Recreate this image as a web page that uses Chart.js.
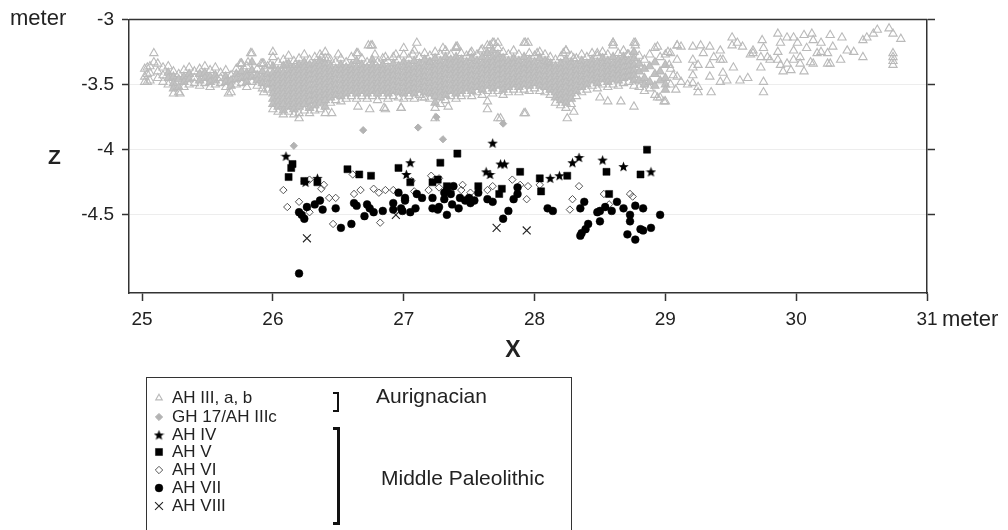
<!DOCTYPE html>
<html><head><meta charset="utf-8">
<script src="https://cdn.jsdelivr.net/npm/chart.js@4.4.1/dist/chart.umd.min.js"></script>
<style>
html,body{margin:0;padding:0;background:#fff;overflow:hidden;}
#wrap{position:relative;width:1008px;height:530px;font-family:"Liberation Sans",Arial,sans-serif;color:#222;}
#c{position:absolute;left:0;top:0;}
#legend{position:absolute;left:146px;top:377px;width:426px;height:200px;border:1.5px solid #333;box-sizing:border-box;}
.item{position:absolute;left:4px;height:18px;display:flex;align-items:center;font-size:17px;white-space:nowrap;color:#222;}
.item canvas{width:16px;height:16px;margin-right:5px;}
.grp{position:absolute;font-size:21px;color:#222;white-space:nowrap;line-height:24px;}
.br{position:absolute;border-style:solid;border-color:#111;border-left:none;}
</style>
</head><body>
<div id="wrap">
<canvas id="c" width="1008" height="530"></canvas>
<div id="legend"></div>
</div>
<script>
// ---------------- DATA ----------------
const xTicks = [25, 26, 27, 28, 29, 30, 31];
const yTicks = [-3, -3.5, -4, -4.5];
const yTickLabels = ['-3', '-3.5', '-4', '-4.5'];
const seriesNames = ['AH III, a, b', 'GH 17/AH IIIc', 'AH IV', 'AH V', 'AH VI', 'AH VII', 'AH VIII'];
const groupNames = ['Aurignacian', 'Middle Paleolithic'];

// AH III, a, b : columns [x, y1, y2, ...] read from the dense cloud
const ah3Columns = [
  [25.02,-3.38,-3.44,-3.48],[25.06,-3.36,-3.41,-3.47],[25.09,-3.26,-3.33],[25.12,-3.34,-3.40,-3.45],
  [25.16,-3.37,-3.43,-3.48],[25.20,-3.36,-3.41,-3.45,-3.50],[25.24,-3.40,-3.44,-3.49,-3.53,-3.57],
  [25.28,-3.42,-3.46,-3.52,-3.56],[25.32,-3.39,-3.44,-3.48,-3.52],[25.36,-3.37,-3.42,-3.46,-3.50],
  [25.40,-3.40,-3.45,-3.49],[25.44,-3.38,-3.42,-3.47,-3.51],[25.48,-3.36,-3.41,-3.45,-3.49],
  [25.52,-3.39,-3.44,-3.48,-3.52],[25.56,-3.37,-3.43,-3.47,-3.50],[25.60,-3.41,-3.45,-3.49],
  [25.64,-3.39,-3.44,-3.48,-3.52],[25.68,-3.43,-3.47,-3.51,-3.56],[25.72,-3.38,-3.42,-3.46,-3.50],
  [25.76,-3.34,-3.40,-3.45,-3.49],[25.80,-3.36,-3.41,-3.44,-3.48,-3.52],[25.84,-3.26,-3.33,-3.39,-3.44,-3.48],
  [25.88,-3.38,-3.43,-3.47,-3.51],[25.92,-3.34,-3.40,-3.45,-3.49,-3.53],[25.96,-3.36,-3.42,-3.46,-3.50,-3.54],
  [26.00,-3.29,-3.36,-3.41,-3.45,-3.49,-3.53,-3.57,-3.61,-3.65,-3.69],
  [26.04,-3.33,-3.39,-3.43,-3.47,-3.51,-3.55,-3.59,-3.63,-3.67,-3.71],
  [26.08,-3.31,-3.36,-3.41,-3.45,-3.49,-3.53,-3.57,-3.61,-3.65,-3.70,-3.73],
  [26.12,-3.28,-3.34,-3.39,-3.43,-3.47,-3.51,-3.55,-3.59,-3.63,-3.67,-3.71],
  [26.16,-3.32,-3.37,-3.41,-3.45,-3.49,-3.53,-3.57,-3.61,-3.65,-3.69,-3.73],
  [26.20,-3.30,-3.35,-3.39,-3.43,-3.47,-3.51,-3.55,-3.59,-3.63,-3.67,-3.72],
  [26.24,-3.27,-3.33,-3.37,-3.41,-3.45,-3.49,-3.53,-3.57,-3.61,-3.65,-3.70],
  [26.28,-3.31,-3.35,-3.39,-3.43,-3.47,-3.51,-3.55,-3.59,-3.63,-3.68,-3.72],
  [26.32,-3.29,-3.34,-3.38,-3.42,-3.46,-3.50,-3.54,-3.58,-3.62,-3.66,-3.70],
  [26.36,-3.27,-3.32,-3.36,-3.40,-3.44,-3.48,-3.52,-3.56,-3.60,-3.64,-3.69],
  [26.40,-3.30,-3.34,-3.38,-3.42,-3.46,-3.50,-3.54,-3.58,-3.62,-3.67,-3.72],
  [26.44,-3.31,-3.36,-3.40,-3.44,-3.48,-3.52,-3.56,-3.60,-3.64],
  [26.48,-3.33,-3.38,-3.42,-3.46,-3.50,-3.54,-3.58,-3.62],
  [26.52,-3.30,-3.35,-3.39,-3.43,-3.47,-3.51,-3.55,-3.59,-3.63],
  [26.56,-3.33,-3.37,-3.41,-3.45,-3.49,-3.53,-3.57,-3.61],
  [26.60,-3.29,-3.35,-3.39,-3.43,-3.47,-3.51,-3.55,-3.59],
  [26.64,-3.26,-3.32,-3.37,-3.41,-3.45,-3.49,-3.53,-3.57,-3.61],
  [26.68,-3.30,-3.35,-3.39,-3.43,-3.47,-3.51,-3.55,-3.59],
  [26.72,-3.33,-3.37,-3.41,-3.45,-3.49,-3.53,-3.57,-3.61],
  [26.76,-3.20,-3.31,-3.35,-3.39,-3.43,-3.47,-3.51,-3.55,-3.59],
  [26.80,-3.33,-3.37,-3.41,-3.45,-3.49,-3.53,-3.57,-3.62],
  [26.84,-3.30,-3.35,-3.39,-3.43,-3.47,-3.51,-3.55,-3.59],
  [26.88,-3.32,-3.37,-3.41,-3.45,-3.49,-3.53,-3.57,-3.61],
  [26.92,-3.29,-3.34,-3.39,-3.43,-3.47,-3.51,-3.55,-3.59],
  [26.96,-3.31,-3.36,-3.40,-3.44,-3.48,-3.52,-3.56,-3.60],
  [27.00,-3.27,-3.33,-3.37,-3.41,-3.45,-3.49,-3.53,-3.57,-3.61],
  [27.04,-3.30,-3.35,-3.39,-3.43,-3.47,-3.51,-3.55,-3.59],
  [27.08,-3.24,-3.32,-3.37,-3.41,-3.45,-3.49,-3.53,-3.57,-3.61],
  [27.12,-3.29,-3.34,-3.38,-3.42,-3.46,-3.50,-3.54,-3.58],
  [27.16,-3.26,-3.31,-3.36,-3.40,-3.44,-3.48,-3.52,-3.56,-3.60],
  [27.20,-3.28,-3.33,-3.37,-3.41,-3.45,-3.49,-3.53,-3.57,-3.61],
  [27.24,-3.25,-3.30,-3.35,-3.39,-3.43,-3.47,-3.51,-3.55,-3.59,-3.64,-3.68],
  [27.28,-3.27,-3.32,-3.36,-3.40,-3.44,-3.48,-3.52,-3.56,-3.60,-3.65],
  [27.32,-3.24,-3.29,-3.34,-3.38,-3.42,-3.46,-3.50,-3.54,-3.58,-3.62],
  [27.36,-3.27,-3.31,-3.35,-3.39,-3.43,-3.47,-3.51,-3.55,-3.59],
  [27.40,-3.22,-3.29,-3.33,-3.37,-3.41,-3.45,-3.49,-3.53,-3.57,-3.61],
  [27.44,-3.26,-3.31,-3.35,-3.39,-3.43,-3.47,-3.51,-3.55,-3.59],
  [27.48,-3.28,-3.33,-3.37,-3.41,-3.45,-3.49,-3.53,-3.57],
  [27.52,-3.25,-3.30,-3.35,-3.39,-3.43,-3.47,-3.51,-3.55,-3.59],
  [27.56,-3.27,-3.32,-3.36,-3.40,-3.44,-3.48,-3.52,-3.56],
  [27.60,-3.23,-3.29,-3.34,-3.38,-3.42,-3.46,-3.50,-3.54,-3.58],
  [27.64,-3.20,-3.26,-3.31,-3.35,-3.39,-3.43,-3.47,-3.51,-3.55],
  [27.68,-3.18,-3.24,-3.29,-3.33,-3.37,-3.41,-3.45,-3.49,-3.53,-3.57],
  [27.72,-3.22,-3.27,-3.31,-3.35,-3.39,-3.43,-3.47,-3.51,-3.55],
  [27.76,-3.25,-3.30,-3.34,-3.38,-3.42,-3.46,-3.50,-3.54,-3.58],
  [27.80,-3.27,-3.32,-3.36,-3.40,-3.44,-3.48,-3.52,-3.56],
  [27.84,-3.24,-3.30,-3.34,-3.38,-3.42,-3.46,-3.50,-3.54],
  [27.88,-3.27,-3.32,-3.36,-3.40,-3.44,-3.48,-3.52,-3.56],
  [27.92,-3.18,-3.29,-3.34,-3.38,-3.42,-3.46,-3.50,-3.54],
  [27.96,-3.26,-3.31,-3.35,-3.39,-3.43,-3.47,-3.51,-3.55],
  [28.00,-3.28,-3.33,-3.37,-3.41,-3.45,-3.49,-3.53],
  [28.04,-3.25,-3.30,-3.35,-3.39,-3.43,-3.47,-3.51,-3.55],
  [28.08,-3.27,-3.32,-3.36,-3.40,-3.44,-3.48,-3.52,-3.56],
  [28.12,-3.29,-3.34,-3.38,-3.42,-3.46,-3.50,-3.54,-3.58],
  [28.16,-3.31,-3.36,-3.40,-3.44,-3.48,-3.52,-3.56,-3.60,-3.64],
  [28.20,-3.29,-3.34,-3.38,-3.42,-3.46,-3.50,-3.54,-3.58,-3.62,-3.66],
  [28.24,-3.24,-3.31,-3.36,-3.40,-3.44,-3.48,-3.52,-3.56,-3.60,-3.64,-3.68],
  [28.28,-3.28,-3.33,-3.37,-3.41,-3.45,-3.49,-3.53,-3.57,-3.61,-3.65],
  [28.32,-3.30,-3.35,-3.39,-3.43,-3.47,-3.51,-3.55,-3.59],
  [28.36,-3.27,-3.32,-3.36,-3.40,-3.44,-3.48,-3.52,-3.56],
  [28.40,-3.29,-3.34,-3.38,-3.42,-3.46,-3.50,-3.54],
  [28.44,-3.26,-3.31,-3.35,-3.39,-3.43,-3.47,-3.51],
  [28.48,-3.28,-3.33,-3.37,-3.41,-3.45,-3.49,-3.53],
  [28.52,-3.25,-3.30,-3.34,-3.38,-3.42,-3.46,-3.50],
  [28.56,-3.27,-3.32,-3.36,-3.40,-3.44,-3.48,-3.52],
  [28.60,-3.18,-3.29,-3.34,-3.38,-3.42,-3.46,-3.50],
  [28.64,-3.26,-3.31,-3.35,-3.39,-3.43,-3.47,-3.51],
  [28.68,-3.24,-3.29,-3.33,-3.37,-3.41,-3.45,-3.49],
  [28.72,-3.27,-3.32,-3.36,-3.40,-3.44,-3.48],
  [28.76,-3.18,-3.25,-3.30,-3.35,-3.39,-3.43,-3.47,-3.51],
  [28.80,-3.28,-3.34,-3.40,-3.47,-3.52],
  [28.84,-3.31,-3.38,-3.45,-3.50,-3.55],
  [28.88,-3.27,-3.36,-3.48,-3.53],
  [28.92,-3.22,-3.33,-3.42,-3.51,-3.58],
  [28.96,-3.29,-3.40,-3.47,-3.60],
  [29.00,-3.27,-3.35,-3.45,-3.50,-3.54,-3.63],
  [29.04,-3.26,-3.38,-3.50],
  [29.09,-3.20,-3.31,-3.44]
];
// AH III, a, b : scattered triangles outside the dense band
const ah3Scattered = [
  [25.04,-3.37],[25.04,-3.42],[25.04,-3.48],[25.75,-3.34],[25.93,-3.34],[25.98,-3.35],[25.83,-3.26],[26.00,-3.25],
  [25.66,-3.57],[25.29,-3.57],[25.93,-3.56],[26.20,-3.76],[26.45,-3.72],[26.65,-3.67],[26.74,-3.69],[26.86,-3.69],
  [26.98,-3.68],[27.24,-3.76],[27.34,-3.67],[27.64,-3.69],[27.72,-3.76],[27.93,-3.72],[28.56,-3.63],
  [26.65,-3.26],[26.75,-3.20],[27.10,-3.18],[27.40,-3.21],[27.69,-3.18],[27.93,-3.18],[28.24,-3.24],[28.60,-3.18],
  [28.77,-3.18],[28.94,-3.21],[29.09,-3.20],[27.30,-3.22],[26.40,-3.25],[27.00,-3.22],
  [29.03,-3.35],[29.06,-3.43],[29.08,-3.54],
  [25.76,-3.34],[25.81,-3.33],[25.91,-3.34],[26.10,-3.35],[26.17,-3.35],[26.37,-3.29],[26.42,-3.30],[26.50,-3.27],
  [26.73,-3.20],[26.78,-3.27],[26.86,-3.29],[26.94,-3.27],[27.07,-3.27],[27.20,-3.33],[27.41,-3.21],[27.51,-3.26],
  [27.59,-3.24],[27.66,-3.20],[27.72,-3.18],[27.95,-3.18],[28.02,-3.26],[28.10,-3.33],[28.22,-3.26],[28.30,-3.30],
  [28.48,-3.26],[28.60,-3.20],[28.71,-3.27],[28.77,-3.20],[29.02,-3.25],
  [26.85,-3.68],[26.98,-3.68],[27.14,-3.60],[27.64,-3.63],[27.74,-3.76],[27.92,-3.72],[28.25,-3.76],[28.30,-3.71],
  [28.50,-3.60],[28.66,-3.63],[28.76,-3.67],[28.94,-3.60],[28.99,-3.63],
  [29.12,-3.21],[29.21,-3.21],[29.27,-3.20],[29.34,-3.21],[29.42,-3.24],[29.51,-3.14],[29.51,-3.20],[29.55,-3.18],
  [29.59,-3.21],[29.65,-3.27],[29.67,-3.24],[29.74,-3.16],[29.75,-3.22],[29.78,-3.29],[29.86,-3.11],[29.88,-3.18],
  [29.93,-3.14],[29.98,-3.14],[30.01,-3.18],[30.06,-3.12],[30.12,-3.11],[30.13,-3.16],[30.19,-3.18],[30.26,-3.12],
  [30.28,-3.21],[30.35,-3.14],[30.39,-3.24],[30.44,-3.25],[30.51,-3.16],[30.54,-3.14],[30.59,-3.11],[30.62,-3.08],
  [30.71,-3.07],[30.74,-3.11],[30.80,-3.15],[30.51,-3.29],[30.74,-3.26],[30.74,-3.29],[30.74,-3.32],[30.74,-3.35],
  [29.12,-3.48],[29.17,-3.50],[29.25,-3.52],[29.25,-3.56],[29.35,-3.56],[29.42,-3.48],[29.44,-3.41],[29.52,-3.37],
  [29.57,-3.47],[29.63,-3.45],[29.73,-3.37],[29.75,-3.48],[29.75,-3.56],[29.86,-3.31],[29.90,-3.40],[29.96,-3.39],
  [30.06,-3.40],[29.98,-3.31],[30.11,-3.33],[30.16,-3.26],[30.26,-3.34],[30.34,-3.31],
  [29.21,-3.31],[29.21,-3.37],[29.21,-3.43],[29.21,-3.49],[29.25,-3.35],[29.34,-3.35],[29.44,-3.31],[29.34,-3.44],
  [29.47,-3.47],[29.80,-3.31],[29.86,-3.25],[30.03,-3.29],[30.13,-3.34],[30.24,-3.26],[30.24,-3.34],
  [29.29,-3.26],[29.37,-3.29],[29.42,-3.31],[29.67,-3.26],[29.73,-3.29],[30.08,-3.22],[30.19,-3.25],[29.98,-3.24],
  [30.03,-3.34],[29.93,-3.34],[29.88,-3.35]
];
const gh17 = [[26.16,-3.97],[26.69,-3.85],[27.11,-3.83],[27.25,-3.75],[27.30,-3.92],[27.76,-3.80]];
const ah4 = [[26.10,-4.05],[26.25,-4.25],[26.34,-4.22],[27.05,-4.10],[27.02,-4.19],[27.68,-3.95],[27.63,-4.17],
  [27.66,-4.19],[27.74,-4.11],[27.77,-4.11],[28.12,-4.22],[28.19,-4.20],[28.29,-4.10],[28.34,-4.06],[28.52,-4.08],
  [28.68,-4.13],[28.89,-4.17]];
const ah5 = [[26.15,-4.11],[26.14,-4.14],[26.12,-4.21],[26.24,-4.24],[26.34,-4.25],[26.57,-4.15],[26.66,-4.19],
  [26.75,-4.20],[26.96,-4.14],[27.05,-4.25],[27.22,-4.25],[27.26,-4.23],[27.28,-4.10],[27.41,-4.03],[27.33,-4.28],
  [27.57,-4.28],[27.73,-4.34],[27.75,-4.30],[27.89,-4.17],[28.04,-4.22],[28.05,-4.32],[28.25,-4.20],[28.55,-4.17],
  [28.57,-4.34],[28.81,-4.19],[28.86,-4.00]];
const ah6 = [[26.08,-4.31],[26.11,-4.44],[26.20,-4.40],[26.28,-4.48],[26.28,-4.23],[26.39,-4.27],[26.37,-4.30],
  [26.43,-4.37],[26.48,-4.37],[26.46,-4.57],[26.61,-4.19],[26.62,-4.34],[26.67,-4.31],[26.77,-4.30],[26.81,-4.33],
  [26.86,-4.31],[26.92,-4.31],[26.82,-4.56],[27.06,-4.24],[27.08,-4.32],[27.19,-4.31],[27.21,-4.20],[27.27,-4.22],
  [27.27,-4.29],[27.36,-4.32],[27.45,-4.27],[27.44,-4.31],[27.51,-4.33],[27.64,-4.31],[27.68,-4.28],[27.83,-4.23],
  [27.89,-4.27],[27.95,-4.28],[27.94,-4.38],[28.04,-4.27],[28.34,-4.28],[28.29,-4.38],[28.27,-4.46],[28.53,-4.34],
  [28.57,-4.42],[28.73,-4.34],[28.75,-4.36]];
const ah7 = [[26.20,-4.95],[26.20,-4.48],[26.22,-4.50],[26.24,-4.53],[26.26,-4.44],[26.32,-4.42],[26.36,-4.39],
  [26.38,-4.46],[26.48,-4.45],[26.52,-4.60],[26.60,-4.57],[26.62,-4.41],[26.64,-4.43],[26.72,-4.42],[26.74,-4.45],
  [26.70,-4.51],[26.77,-4.48],[26.84,-4.47],[26.92,-4.41],[26.92,-4.46],[26.96,-4.33],[26.98,-4.45],[26.99,-4.47],
  [27.01,-4.37],[27.01,-4.39],[27.05,-4.48],[27.09,-4.45],[27.10,-4.34],[27.14,-4.37],[27.22,-4.37],[27.22,-4.45],
  [27.26,-4.46],[27.27,-4.44],[27.31,-4.33],[27.31,-4.38],[27.33,-4.50],[27.33,-4.31],[27.36,-4.34],[27.37,-4.42],
  [27.38,-4.28],[27.42,-4.45],[27.43,-4.37],[27.47,-4.39],[27.50,-4.37],[27.51,-4.41],[27.54,-4.39],[27.57,-4.33],
  [27.64,-4.38],[27.68,-4.40],[27.76,-4.53],[27.80,-4.47],[27.84,-4.38],[27.87,-4.34],[27.87,-4.29],[28.10,-4.45],
  [28.14,-4.47],[28.35,-4.45],[28.38,-4.40],[28.35,-4.66],[28.36,-4.64],[28.39,-4.61],[28.41,-4.57],[28.48,-4.48],
  [28.50,-4.47],[28.50,-4.55],[28.54,-4.44],[28.59,-4.47],[28.63,-4.40],[28.68,-4.45],[28.73,-4.50],[28.73,-4.55],
  [28.77,-4.43],[28.83,-4.45],[28.71,-4.65],[28.77,-4.69],[28.81,-4.61],[28.83,-4.62],[28.89,-4.60],[28.96,-4.50]];
const ah8 = [[26.26,-4.68],[26.94,-4.50],[27.71,-4.60],[27.94,-4.62]];

// ---------------- CHART ----------------
const FONT = '"Liberation Sans", Arial, sans-serif';
const toPts = arr => arr.map(p => ({x: p[0], y: p[1]}));
// inner points of a column sit inside the solid part of the cloud
const ah3Points = ah3Columns.flatMap(col => col.slice(1).map((y, k, ys) =>
  ({x: col[0], y: y, inner: ys.length >= 4 && k > 0 && k < ys.length - 1}))).concat(toPts(ah3Scattered));

function makeStar(size, color) {
  const c = document.createElement('canvas'); c.width = size; c.height = size;
  const g = c.getContext('2d'); const cx = size / 2, cy = size / 2 + 0.4, R = size / 2, r = R * 0.42;
  g.beginPath();
  for (let i = 0; i < 10; i++) {
    const a = -Math.PI / 2 + i * Math.PI / 5; const rr = i % 2 ? r : R;
    g.lineTo(cx + rr * Math.cos(a), cy + rr * Math.sin(a));
  }
  g.closePath(); g.fillStyle = color; g.fill(); return c;
}
const starImg = makeStar(11, '#000');
const starLegend = makeStar(11, '#000');

const CLOUD = '#c2c2c2';
const styles = [
  {pointStyle: 'triangle', pointRadius: 4.8, pointBorderColor: '#bababa',
   pointBackgroundColor: c => (c.raw && c.raw.inner) ? CLOUD : 'rgba(255,255,255,0)', pointBorderWidth: 1.1, order: 7},
  {pointStyle: 'rectRot', pointRadius: 3.6, pointBorderColor: '#b3b3b3', pointBackgroundColor: '#b3b3b3', pointBorderWidth: 1, order: 6},
  {pointStyle: starImg, pointRadius: 5, pointBorderColor: '#000', pointBackgroundColor: '#000', pointBorderWidth: 0, order: 1},
  {pointStyle: 'rect', pointRadius: 5, pointBorderColor: '#000', pointBackgroundColor: '#000', pointBorderWidth: 0.5, order: 2},
  {pointStyle: 'rectRot', pointRadius: 3.7, pointBorderColor: '#555', pointBackgroundColor: 'rgba(255,255,255,0)', pointBorderWidth: 1, order: 4},
  {pointStyle: 'circle', pointRadius: 3.9, pointBorderColor: '#000', pointBackgroundColor: '#000', pointBorderWidth: 0.5, order: 3},
  {pointStyle: 'crossRot', pointRadius: 5.6, pointBorderColor: '#222', pointBackgroundColor: '#222', pointBorderWidth: 1.1, order: 5}
];
const seriesData = [ah3Points, toPts(gh17), toPts(ah4), toPts(ah5), toPts(ah6), toPts(ah7), toPts(ah8)];

const datasets = seriesNames.map((name, i) => Object.assign({label: name, data: seriesData[i], showLine: false}, styles[i]));

const textPlugin = {
  id: 'texts',
  afterDraw(chart) {
    const ctx = chart.ctx; const a = chart.chartArea;
    ctx.save();
    ctx.strokeStyle = '#333'; ctx.lineWidth = 1.5;
    ctx.beginPath(); ctx.moveTo(a.left, a.top); ctx.lineTo(a.right, a.top); ctx.stroke();
    ctx.fillStyle = '#222'; ctx.textBaseline = 'middle'; ctx.textAlign = 'left';
    ctx.font = '22px ' + FONT;
    ctx.fillText('meter', 10, a.top);
    const xs = chart.scales.x;
    ctx.fillText('meter', xs.getPixelForValue(31) + 15, 320);
    ctx.font = 'bold 21px ' + FONT;
    ctx.fillText('Z', 48, 158);
    ctx.textAlign = 'center';
    ctx.font = 'bold 23px ' + FONT;
    ctx.fillText('X', 513, 351);
    ctx.restore();
  }
};

new Chart(document.getElementById('c'), {
  type: 'scatter',
  data: {datasets},
  options: {
    responsive: false, animation: false, devicePixelRatio: 1,
    layout: {padding: {top: 19, left: 0, right: 0, bottom: 0}},
    plugins: {legend: {display: false}, tooltip: {enabled: false}},
    scales: {
      x: {
        type: 'linear', position: 'bottom', min: 24.9, max: 31,
        afterBuildTicks: s => { s.ticks = xTicks.map(v => ({value: v})); },
        afterFit: s => { s.height = 237; },
        grid: {drawOnChartArea: false, drawTicks: true, tickLength: 8, tickColor: '#333', tickWidth: 1.5},
        border: {display: true, color: '#333', width: 1.5},
        ticks: {font: {family: FONT, size: 19}, color: '#222', padding: 7, maxRotation: 0, autoSkip: false,
          callback: v => String(v)}
      },
      y: {
        type: 'linear', position: 'left', min: -5.1, max: -3,
        afterBuildTicks: s => { s.ticks = yTicks.map(v => ({value: v})); },
        afterFit: s => { s.width = 129; },
        grid: {color: c => (c.tick && c.tick.value === -3) ? 'rgba(0,0,0,0)' : '#ededed', tickColor: '#333', tickLength: 7, tickWidth: 1.5, lineWidth: 1},
        border: {display: true, color: '#333', width: 1.5},
        ticks: {font: {family: FONT, size: 19}, color: '#222', padding: 8,
          callback: v => yTickLabels[yTicks.indexOf(v)]}
      },
      y2: {
        type: 'linear', position: 'right', min: -5.1, max: -3,
        afterBuildTicks: s => { s.ticks = yTicks.map(v => ({value: v})); },
        afterFit: s => { s.width = 81; },
        grid: {drawOnChartArea: false, tickColor: '#333', tickLength: 8, tickWidth: 1.5},
        border: {display: true, color: '#333', width: 1.5},
        ticks: {display: false}
      }
    }
  },
  plugins: [textPlugin]
});

// ---------------- LEGEND (HTML) ----------------
const legend = document.getElementById('legend');
const rowTop = [11, 30, 48, 65, 83, 101, 119];
seriesNames.forEach((name, i) => {
  const row = document.createElement('div'); row.className = 'item'; row.style.top = rowTop[i] + 'px';
  const cv = document.createElement('canvas'); cv.width = 16; cv.height = 16;
  const g = cv.getContext('2d'); const st = styles[i];
  g.fillStyle = i === 0 ? 'rgba(255,255,255,0)' : st.pointBackgroundColor; g.strokeStyle = st.pointBorderColor; g.lineWidth = st.pointBorderWidth;
  const opts = {pointStyle: i === 2 ? starLegend : st.pointStyle, radius: i === 0 ? 3.8 : st.pointRadius, rotation: 0, borderWidth: st.pointBorderWidth};
  if (Chart.helpers && Chart.helpers.drawPoint) Chart.helpers.drawPoint(g, opts, 8, 8);
  row.appendChild(cv);
  const sp = document.createElement('span'); sp.textContent = name; row.appendChild(sp);
  legend.appendChild(row);
});
function addBracket(top, h, w) {
  const b = document.createElement('div'); b.className = 'br';
  b.style.left = '186px'; b.style.top = top + 'px'; b.style.width = '4px'; b.style.height = h + 'px';
  b.style.borderWidth = w + 'px'; legend.appendChild(b);
}
addBracket(14, 16, 2);
addBracket(49, 92, 3);
function addGroup(text, left, top) {
  const d = document.createElement('div'); d.className = 'grp'; d.textContent = text;
  d.style.left = left + 'px'; d.style.top = top + 'px'; legend.appendChild(d);
}
addGroup(groupNames[0], 229, 6);
addGroup(groupNames[1], 234, 88);
</script>
</body></html>
